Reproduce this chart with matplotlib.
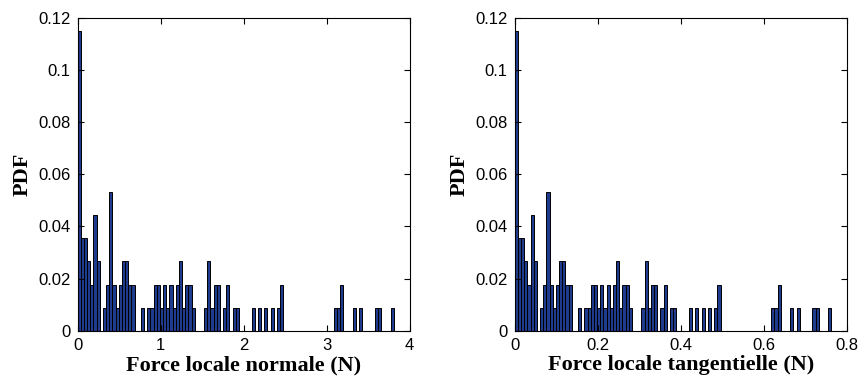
import numpy as np
import matplotlib
matplotlib.use('Agg')
import matplotlib.pyplot as plt

# counts per bin (100 bins), same shape for both forces, N = 113 contacts
counts = [13, 4, 4, 3, 2, 5, 3, 0, 1, 2,
          6, 2, 1, 2, 3, 3, 2, 2, 0, 0,
          1, 0, 1, 1, 2, 2, 1, 2, 1, 2,
          1, 2, 3, 1, 2, 2, 1, 0, 0, 0,
          1, 3, 1, 2, 2, 0, 1, 2, 0, 1,
          1, 0, 0, 0, 0, 1, 0, 1, 0, 1,
          0, 1, 0, 1, 2, 0, 0, 0, 0, 0,
          0, 0, 0, 0, 0, 0, 0, 0, 0, 0,
          0, 1, 1, 2, 0, 0, 0, 1, 0, 1,
          0, 0, 0, 0, 1, 1, 0, 0, 0, 1]
n_total = 113
fmax_normal = 3.81
fmax_tang = 0.763

xlabels = ['Force locale normale (N)', 'Force locale tangentielle (N)']
xmaxs = [fmax_normal, fmax_tang]
xlims = [4, 0.8]
xticks = [[0, 1, 2, 3, 4], [0, 0.2, 0.4, 0.6, 0.8]]
xticklabels = [['0', '1', '2', '3', '4'], ['0', '0.2', '0.4', '0.6', '0.8']]
yticks = [0, 0.02, 0.04, 0.06, 0.08, 0.1, 0.12]
yticklabels = ['0', '0.02', '0.04', '0.06', '0.08', '0.1', '0.12']

tickfont = 'Liberation Sans'
labfont = 'Liberation Serif'

fig = plt.figure(figsize=(8.62, 3.85), dpi=100)
positions = [[0.0901, 0.141, 0.3852, 0.813], [0.5971, 0.141, 0.3852, 0.813]]

pdf = np.array(counts) / n_total
for k in range(2):
	ax = fig.add_axes(positions[k])
	edges = np.linspace(0, xmaxs[k], len(counts) + 1)
	ax.bar(edges[:-1], pdf, width=np.diff(edges), align='edge',
	       color='#1f3b8e', edgecolor='black', linewidth=0.7)
	ax.set_xlim(0, xlims[k])
	ax.set_ylim(0, 0.12)
	ax.set_xticks(xticks[k])
	ax.set_xticklabels(xticklabels[k], family=tickfont, fontsize=12)
	ax.set_yticks(yticks)
	ax.set_yticklabels(yticklabels, family=tickfont, fontsize=12)
	ax.tick_params(direction='in', top=True, right=True, length=4, width=0.8, pad=5)
	for s in ax.spines.values():
		s.set_linewidth(0.8)
	ax.set_xlabel(xlabels[k], family=labfont, fontweight='bold', fontsize=16, labelpad=2)
	ax.set_ylabel('PDF', family=labfont, fontweight='bold', fontsize=16, labelpad=4)

fig.savefig('out.png', dpi=100)
